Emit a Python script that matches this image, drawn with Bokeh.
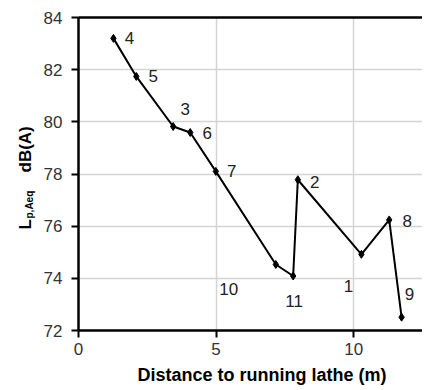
import math
from bokeh.plotting import figure
from bokeh.layouts import row
from bokeh.models import Range1d, LinearAxis, FixedTicker, ColumnDataSource, Title
from bokeh.core.properties import value
from bokeh.embed import file_html
from bokeh.resources import INLINE

# data
distance = [1.27, 2.10, 3.44, 4.06, 4.99, 7.17, 7.80, 7.97, 10.28, 11.29, 11.74]
level = [83.20, 81.74, 79.82, 79.59, 78.10, 74.53, 74.09, 77.78, 74.92, 76.24, 72.51]
point_ids = ["4", "5", "3", "6", "7", "10", "11", "2", "1", "8", "9"]
x_ticks = [0, 5, 10]
y_ticks = [72, 74, 76, 78, 80, 82, 84]
x_grid = [5, 10]
y_grid = [74, 76, 78, 80, 82]
x_title = "Distance to running lathe (m)"

# label offsets in screen pixels (style, not data)
dx = [16, 17, 12, 17, 16, -47, 1, 17, -13, 18, 8]
dy = [0, 0, -18, 0, 0, 24, 25, 2, 32, 1, -23]

FONT = "Liberation Sans"
H = 389
TOP, BOTTOM = 17, 330  # frame edges in page pixels

p = figure(width=382, height=H, output_backend="svg", toolbar_location=None,
           x_range=Range1d(0, 12.5), y_range=Range1d(72, 84),
           min_border_left=38, min_border_right=0, min_border_top=TOP,
           min_border_bottom=H - BOTTOM)
p.outline_line_color = None
p.background_fill_color = "white"

for ax in (p.xaxis[0], p.yaxis[0]):
    ax.axis_line_color = "black"
    ax.axis_line_width = 2.5
    ax.major_tick_line_color = "black"
    ax.major_tick_line_width = 2
    ax.major_tick_out = 7
    ax.major_tick_in = 0
    ax.minor_tick_line_color = None
    ax.major_label_text_font = FONT
    ax.major_label_text_font_size = "17px"
    ax.major_label_text_color = "#333333"

p.xaxis[0].ticker = FixedTicker(ticks=x_ticks)
p.yaxis[0].ticker = FixedTicker(ticks=y_ticks)
p.xaxis[0].major_label_standoff = 5
p.yaxis[0].major_label_standoff = 9

top = LinearAxis(ticker=FixedTicker(ticks=[]), major_label_text_font_size="0px",
                 axis_line_color="black", axis_line_width=2.5,
                 major_tick_line_color=None, minor_tick_line_color=None)
p.add_layout(top, "above")

p.add_layout(Title(text=x_title, align="left", offset=59, standoff=10,
                   text_font=FONT, text_font_style="bold", text_font_size="18px",
                   text_color="black"), "below")

p.xgrid.ticker = FixedTicker(ticks=x_grid)
p.ygrid.ticker = FixedTicker(ticks=y_grid)
p.xgrid.grid_line_color = "#d4d4d4"
p.ygrid.grid_line_color = "#d4d4d4"
p.xgrid.grid_line_width = 1.5
p.ygrid.grid_line_width = 1.5

src = ColumnDataSource(dict(x=distance, y=level, t=point_ids, dx=dx, dy=dy))
p.line("x", "y", source=src, line_color="black", line_width=2)
p.scatter("x", "y", source=src, marker="diamond", size=8, color="black")
p.text("x", "y", text="t", source=src, x_offset="dx", y_offset="dy",
       text_font=value(FONT), text_font_size="17px", text_color="#222222",
       text_align="center", text_baseline="middle")

# y-axis title strip with subscript; y coordinate = -(page pixel row)
t = figure(width=40, height=H, output_backend="svg", toolbar_location=None,
           x_range=Range1d(0, 40), y_range=Range1d(-BOTTOM, -TOP),
           min_border_left=0, min_border_right=0, min_border_top=TOP,
           min_border_bottom=H - BOTTOM, x_axis_type=None, y_axis_type=None)
t.outline_line_color = None
t.xgrid.visible = False
t.ygrid.visible = False
t.text(x=[15], y=[-229], text=["L"], angle=math.pi / 2,
       text_font=value(FONT), text_font_style="bold", text_font_size="17px",
       text_color="black", text_baseline="top", text_align="left")
t.text(x=[23], y=[-218], text=["p,Aeq"], angle=math.pi / 2,
       text_font=value(FONT), text_font_style="bold", text_font_size="10px",
       text_color="black", text_baseline="top", text_align="left")
t.text(x=[15], y=[-172], text=["dB(A)"], angle=math.pi / 2,
       text_font=value(FONT), text_font_style="bold", text_font_size="17px",
       text_color="black", text_baseline="top", text_align="left")

layout = row(t, p, spacing=0)
open("out.html", "w").write(file_html(layout, INLINE))
